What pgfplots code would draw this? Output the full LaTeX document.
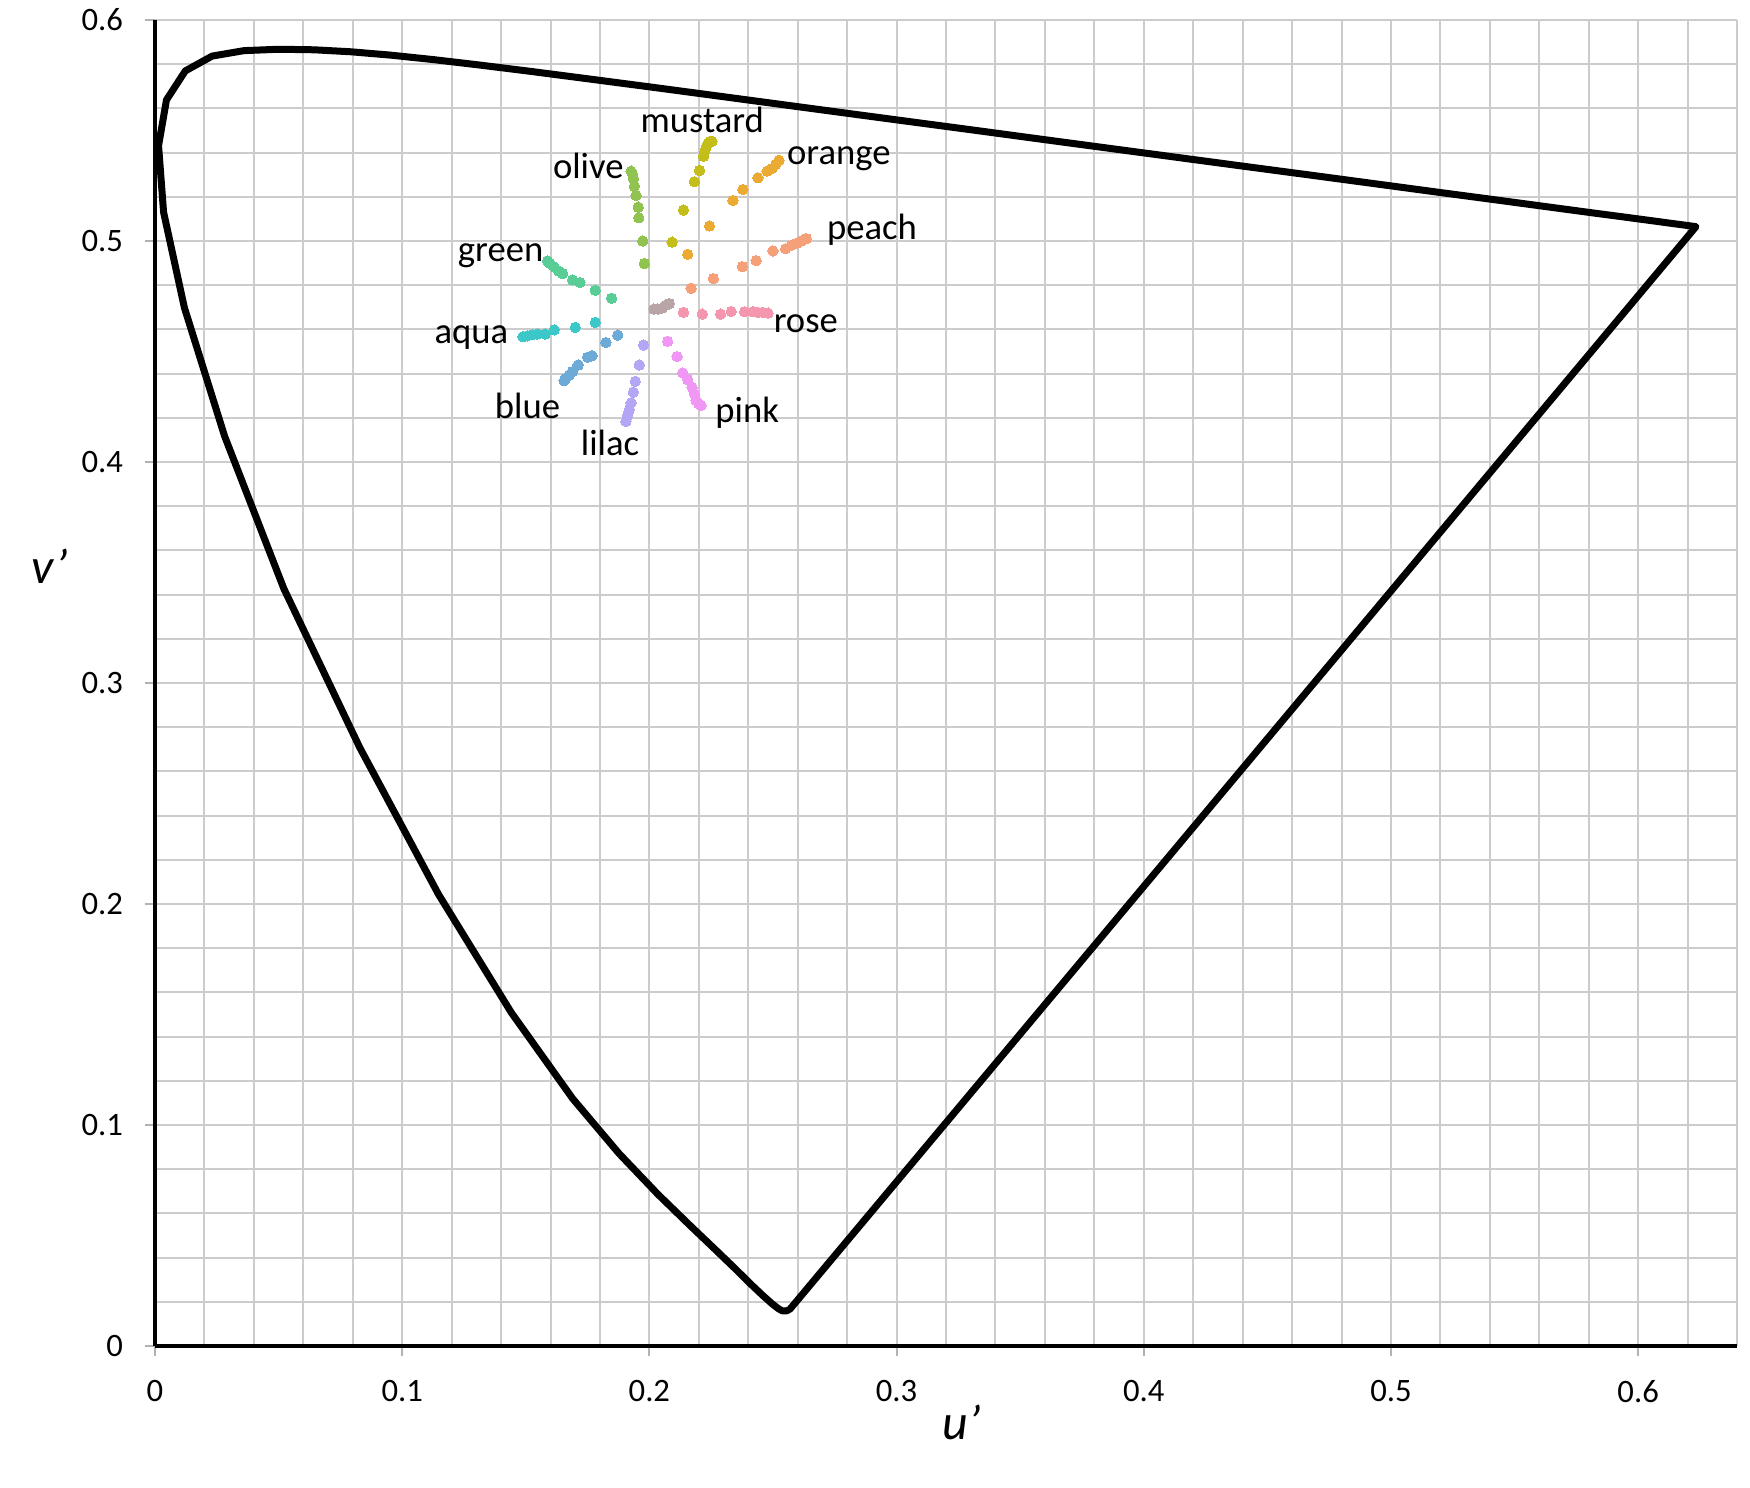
\documentclass[border=0pt]{standalone}
\usepackage{pgfplots}
\pgfplotsset{compat=1.18}
\usepackage{fontspec}
\setmainfont{Carlito}
\definecolor{cmustard}{RGB}{195,190,25}
\definecolor{corange}{RGB}{235,170,50}
\definecolor{cpeach}{RGB}{245,160,120}
\definecolor{crose}{RGB}{245,150,175}
\definecolor{cpink}{RGB}{240,150,245}
\definecolor{clilac}{RGB}{180,165,245}
\definecolor{cblue}{RGB}{110,170,215}
\definecolor{caqua}{RGB}{60,200,200}
\definecolor{cgreen}{RGB}{90,205,150}
\definecolor{colive}{RGB}{145,195,80}
\definecolor{cgray}{RGB}{185,165,165}
\begin{document}
\begin{tikzpicture}
\begin{axis}[
  scale only axis,
  width=395.5bp, height=331.5bp,
  xmin=0, xmax=0.64, ymin=0, ymax=0.6,
  axis lines*=left,
  axis line style={-, line width=1bp, black},
  xtick={0,0.1,0.2,0.3,0.4,0.5,0.6},
  xticklabels={0,0.1,0.2,0.3,0.4,0.5,0.6},
  ytick={0,0.1,0.2,0.3,0.4,0.5,0.6},
  yticklabels={0,0.1,0.2,0.3,0.4,0.5,0.6},
  minor xtick={0.02,0.04,0.06,0.08,0.12,0.14,0.16,0.18,0.22,0.24,0.26,0.28,0.32,0.34,0.36,0.38,0.42,0.44,0.46,0.48,0.52,0.54,0.56,0.58,0.62,0.64},
  minor ytick={0.02,0.04,0.06,0.08,0.12,0.14,0.16,0.18,0.22,0.24,0.26,0.28,0.32,0.34,0.36,0.38,0.42,0.44,0.46,0.48,0.52,0.54,0.56,0.58},
  grid=both,
  major grid style={gray!40, line width=0.5bp},
  minor grid style={gray!40, line width=0.5bp},
  tick align=outside,
  major tick length=2.5bp,
  minor tick length=0pt,
  tick style={gray!60, line width=0.5bp},
  tick label style={font=\fontsize{8.2}{10}\selectfont},
  xticklabel style={yshift=-2.5bp},
  yticklabel style={xshift=-2bp},
  clip=false,
]
% spectral locus (CIE 1976 u'v')
\addplot[black, line width=1.75bp, line join=round] table[row sep=\\] {
x y\\
0.25681 0.01659\\ 0.25664 0.01659\\ 0.25642 0.01627\\ 0.25609 0.01626\\ 0.25570 0.01594\\
0.25520 0.01593\\ 0.25454 0.01593\\ 0.25370 0.01592\\ 0.25221 0.01688\\ 0.24962 0.01913\\
0.24612 0.02262\\ 0.24106 0.02795\\ 0.23469 0.03501\\ 0.22663 0.04368\\ 0.21606 0.05495\\
0.20334 0.06878\\ 0.18772 0.08711\\ 0.16896 0.11195\\ 0.14408 0.15098\\ 0.11469 0.20437\\
0.08282 0.27082\\ 0.05213 0.34268\\ 0.02816 0.41168\\ 0.01189 0.46984\\ 0.00347 0.51307\\
0.00144 0.54316\\ 0.00464 0.56384\\ 0.01228 0.57698\\ 0.02312 0.58367\\ 0.03601 0.58614\\
0.05006 0.58676\\ 0.06434 0.58652\\ 0.07922 0.58562\\ 0.09527 0.58411\\ 0.11270 0.58207\\
0.13186 0.57955\\ 0.15310 0.57659\\ 0.17659 0.57318\\ 0.20260 0.56937\\ 0.23117 0.56511\\
0.26234 0.56044\\ 0.29596 0.55541\\ 0.33153 0.55012\\ 0.36806 0.54463\\ 0.40347 0.53934\\
0.43794 0.53419\\ 0.46917 0.52956\\ 0.49677 0.52542\\ 0.52026 0.52189\\ 0.53992 0.51898\\
0.55650 0.51649\\ 0.57088 0.51433\\ 0.58304 0.51251\\ 0.59286 0.51107\\ 0.60050 0.50993\\
0.60643 0.50904\\ 0.61088 0.50837\\ 0.61378 0.50793\\ 0.61616 0.50758\\ 0.61990 0.50702\\
0.62259 0.50661\\ 0.62340 0.50649\\ 0.25681 0.01659\\
};
% colour series
\pgfplotsset{dots/.style={color=#1, only marks, mark=*, mark size=1.3bp, mark options={draw=#1, fill=#1, line width=0pt}}}
\addplot[dots=cgray] coordinates {(0.2018,0.4692)(0.2034,0.4692)(0.2051,0.4696)(0.2068,0.4710)(0.2081,0.4717)};
\addplot[dots=cmustard] coordinates {(0.2092,0.4995)(0.2138,0.5140)(0.2182,0.5268)(0.2203,0.5319)(0.2219,0.5383)(0.2224,0.5406)(0.2230,0.5426)(0.2238,0.5444)(0.2246,0.5451)(0.2253,0.5451)};
\addplot[dots=corange] coordinates {(0.2155,0.4940)(0.2243,0.5068)(0.2338,0.5183)(0.2378,0.5233)(0.2439,0.5286)(0.2476,0.5316)(0.2497,0.5328)(0.2511,0.5346)(0.2524,0.5365)};
\addplot[dots=cpeach] coordinates {(0.2169,0.4786)(0.2259,0.4830)(0.2376,0.4884)(0.2432,0.4911)(0.2500,0.4955)(0.2551,0.4965)(0.2574,0.4980)(0.2595,0.4989)(0.2615,0.5000)(0.2635,0.5011)};
\addplot[dots=crose] coordinates {(0.2138,0.4677)(0.2214,0.4669)(0.2288,0.4669)(0.2331,0.4681)(0.2385,0.4680)(0.2419,0.4680)(0.2439,0.4677)(0.2459,0.4677)(0.2480,0.4674)};
\addplot[dots=cpink] coordinates {(0.2074,0.4546)(0.2112,0.4477)(0.2135,0.4403)(0.2155,0.4373)(0.2173,0.4338)(0.2182,0.4308)(0.2189,0.4278)(0.2200,0.4263)(0.2209,0.4256)};
\addplot[dots=clilac] coordinates {(0.1976,0.4529)(0.1959,0.4439)(0.1943,0.4365)(0.1935,0.4316)(0.1926,0.4268)(0.1919,0.4238)(0.1912,0.4211)(0.1905,0.4183)};
\addplot[dots=cblue] coordinates {(0.1872,0.4574)(0.1824,0.4541)(0.1768,0.4481)(0.1750,0.4474)(0.1712,0.4439)(0.1689,0.4409)(0.1676,0.4394)(0.1662,0.4379)(0.1655,0.4368)};
\addplot[dots=caqua] coordinates {(0.1781,0.4632)(0.1700,0.4609)(0.1615,0.4598)(0.1578,0.4579)(0.1547,0.4579)(0.1527,0.4576)(0.1507,0.4571)(0.1489,0.4567)};
\addplot[dots=cgreen] coordinates {(0.1847,0.4741)(0.1781,0.4777)(0.1719,0.4812)(0.1689,0.4824)(0.1649,0.4853)(0.1632,0.4865)(0.1615,0.4883)(0.1597,0.4899)(0.1588,0.4910)};
\addplot[dots=colive] coordinates {(0.1980,0.4898)(0.1973,0.5000)(0.1957,0.5105)(0.1955,0.5153)(0.1946,0.5206)(0.1939,0.5248)(0.1936,0.5281)(0.1932,0.5301)(0.1926,0.5316)};
% labels
\begin{scope}[every node/.style={font=\fontsize{9.2}{11}\selectfont, inner sep=0pt}]
\node[anchor=base] at (axis cs:0.2214,0.5489) {mustard};
\node[anchor=base west] at (axis cs:0.2554,0.5346) {orange};
\node[anchor=base east] at (axis cs:0.1899,0.5281) {olive};
\node[anchor=base west] at (axis cs:0.2716,0.5008) {peach};
\node[anchor=base east] at (axis cs:0.1574,0.4905) {green};
\node[anchor=base west] at (axis cs:0.2500,0.4586) {rose};
\node[anchor=base east] at (axis cs:0.1432,0.4534) {aqua};
\node[anchor=base] at (axis cs:0.1507,0.4196) {blue};
\node[anchor=base west] at (axis cs:0.2264,0.4180) {pink};
\node[anchor=base] at (axis cs:0.1841,0.4030) {lilac};
\end{scope}
\node[font=\fontsize{12.5}{14}\selectfont\itshape] at (axis cs:0.3263,-0.0344) {u’};
\node[font=\fontsize{12.5}{14}\selectfont\itshape] at (axis cs:-0.0426,0.353) {v’};
\end{axis}
\pgfresetboundingbox
\useasboundingbox (-38.75bp,-35.5bp) rectangle (398.75bp,336.5bp);
\end{tikzpicture}
\end{document}
